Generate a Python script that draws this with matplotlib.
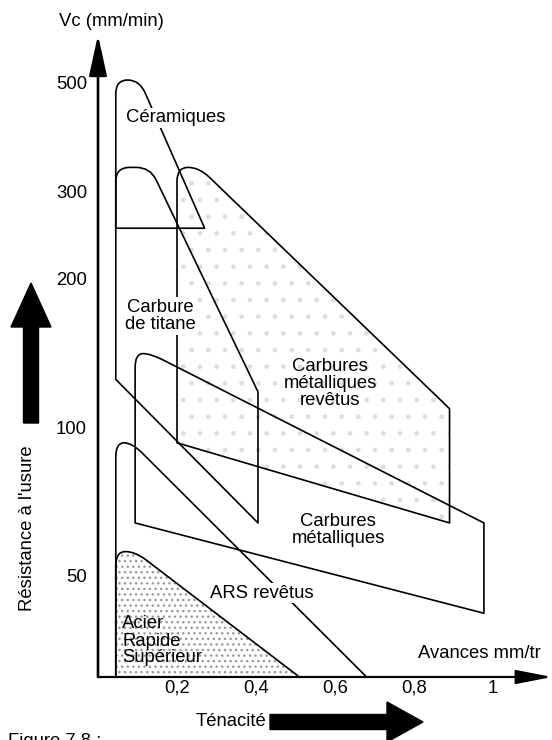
import numpy as np
import matplotlib
matplotlib.use("Agg")
import matplotlib.pyplot as plt
from matplotlib.path import Path
from matplotlib.patches import PathPatch, FancyArrow
from matplotlib.transforms import IdentityTransform
from matplotlib.ticker import NullLocator

plt.rcParams['font.family'] = ['Liberation Sans', 'DejaVu Sans']

# Outline of each tool-material domain: feed (mm/tr) vs cutting speed Vc
ceramiques_f = [0.045, 0.045, 0.105, 0.27]
ceramiques_vc = [253, 505, 505, 253]
titane_f = [0.045, 0.045, 0.132, 0.405, 0.405]
titane_vc = [125, 336, 336, 118, 64]
cmr_f = [0.2, 0.2, 0.256, 0.87, 0.89, 0.89]
cmr_vc = [93, 336, 336, 113, 109, 64]
cm_f = [0.094, 0.094, 0.133, 0.977, 0.977]
cm_vc = [64, 141, 141, 64, 42]
arsr_f = [0.045, 0.045, 0.086, 0.68]
arsr_vc = [31.2, 93, 93, 31.2]
ars_f = [0.045, 0.045, 0.094, 0.51]
ars_vc = [31.2, 56, 56, 31.2]

xticks = [0.2, 0.4, 0.6, 0.8, 1.0]
xtick_labels = ["0,2", "0,4", "0,6", "0,8", "1"]
yticks = [50, 100, 200, 300, 500]
ytick_labels = ["50", "100", "200", "300", "500"]

W, H = 552, 740
FS = 13.3

fig = plt.figure(figsize=(W / 100, H / 100), dpi=100)
fig.patch.set_facecolor('white')
ax = fig.add_axes([98 / W, 63 / H, 454 / W, 642 / H])
ax.set_yscale('log')
ax.set_xlim(0, 454 / 395)
ax.set_ylim(31.2, 623)
for s in ax.spines.values():
    s.set_visible(False)
ax.set_xticks(xticks)
ax.set_xticklabels(xtick_labels)
ax.set_yticks(yticks)
ax.set_yticklabels(ytick_labels)
ax.yaxis.set_minor_locator(NullLocator())
ax.xaxis.set_minor_locator(NullLocator())
ax.tick_params(axis='both', length=0, labelsize=FS)
ax.tick_params(axis='y', pad=8)
ax.tick_params(axis='x', pad=2)
ax.patch.set_alpha(0)


def px(x, y):
    """Image-pixel position (origin top-left) to figure fraction."""
    return x / W, 1 - y / H


def rounded_path(xs, ys, corners, r=14):
    pts = ax.transData.transform(np.column_stack([xs, ys]))
    n = len(pts)
    verts, codes = [], []
    for i in range(n):
        p = pts[i]
        if i in corners:
            a = pts[i - 1]
            b = pts[(i + 1) % n]
            da = np.linalg.norm(a - p)
            db = np.linalg.norm(b - p)
            ra = min(r, da * (0.5 if (i - 1) % n in corners else 0.9))
            rb = min(r, db * (0.5 if (i + 1) % n in corners else 0.9))
            verts += [p + (a - p) / da * ra, p, p + (b - p) / db * rb]
            codes += [Path.LINETO, Path.CURVE3, Path.CURVE3]
        else:
            verts.append(p)
            codes.append(Path.LINETO)
    codes[0] = Path.MOVETO
    verts.append(verts[0])
    codes.append(Path.CLOSEPOLY)
    return Path(np.array(verts), codes)


domains = [
    (ceramiques_f, ceramiques_vc),
    (titane_f, titane_vc),
    (cmr_f, cmr_vc),
    (cm_f, cm_vc),
    (arsr_f, arsr_vc),
    (ars_f, ars_vc),
]

# stippled areas
stipple = [((cmr_f, cmr_vc), '.', '#dedede'), ((ars_f, ars_vc), '...', '#9a9a9a')]
for (fx, vy), hatch, col in stipple:
    ax.add_patch(PathPatch(rounded_path(fx, vy, {1, 2}), transform=IdentityTransform(),
                           facecolor='none', edgecolor=col, lw=0, hatch=hatch,
                           clip_on=False, zorder=1))

for fx, vy in domains:
    ax.add_patch(PathPatch(rounded_path(fx, vy, {1, 2}), transform=IdentityTransform(),
                           facecolor='none', edgecolor='black', lw=1.2,
                           clip_on=False, zorder=2, joinstyle='round'))

# axes drawn as arrows
ax.annotate('', xy=(0, 623), xytext=(0, 31.2), xycoords='data',
            arrowprops=dict(arrowstyle='-|>,head_length=2.5,head_width=0.55',
                            lw=1.9, color='black', mutation_scale=10,
                            shrinkA=0, shrinkB=0),
            annotation_clip=False, zorder=5)
ax.annotate('', xy=(454 / 395, 31.2), xytext=(0, 31.2), xycoords='data',
            arrowprops=dict(arrowstyle='-|>,head_length=2.2,head_width=0.43',
                            lw=1.6, color='black', mutation_scale=10,
                            shrinkA=0, shrinkB=0),
            annotation_clip=False, zorder=5)

# thick arrows for wear resistance and toughness
fig.add_artist(FancyArrow(31, H - 423, 0, 140, width=15, head_width=40, head_length=44,
                          length_includes_head=True, transform=IdentityTransform(),
                          color='black'))
fig.add_artist(FancyArrow(270, H - 722, 153, 0, width=15, head_width=40, head_length=36,
                          length_includes_head=True, transform=IdentityTransform(),
                          color='black'))

box = dict(boxstyle='square,pad=0.1', fc='white', ec='none')
fig.text(*px(111, 21), "Vc (mm/min)", fontsize=FS, ha='center', va='center')
fig.text(*px(176, 118), "Céramiques", fontsize=FS, ha='center', va='center', bbox=box, zorder=6)
fig.text(*px(160, 316), "Carbure\nde titane", fontsize=FS, ha='center', va='center',
         linespacing=1.0, bbox=box, zorder=6)
fig.text(*px(330, 383), "Carbures\nmétalliques\nrevêtus", fontsize=FS, ha='center',
         va='center', linespacing=1.0, zorder=6)
fig.text(*px(338, 530), "Carbures\nmétalliques", fontsize=FS, ha='center', va='center',
         linespacing=1.0, zorder=6)
fig.text(*px(262, 593), "ARS revêtus", fontsize=FS, ha='center', va='center', bbox=box, zorder=6)
fig.text(*px(122, 641), "Acier\nRapide\nSupérieur", fontsize=FS, ha='left', va='center',
         linespacing=1.0, zorder=6)
fig.text(*px(418, 654), "Avances mm/tr", fontsize=FS, ha='left', va='center')
fig.text(*px(196, 721), "Ténacité", fontsize=FS, ha='left', va='center')
fig.text(*px(28, 528), "Résistance à l'usure", fontsize=FS, ha='center', va='center',
         rotation=90)
fig.text(*px(8, 733), "Figure 7.8 :", fontsize=FS, ha='left', va='top')

fig.savefig("out.png", dpi=100, facecolor='white')
